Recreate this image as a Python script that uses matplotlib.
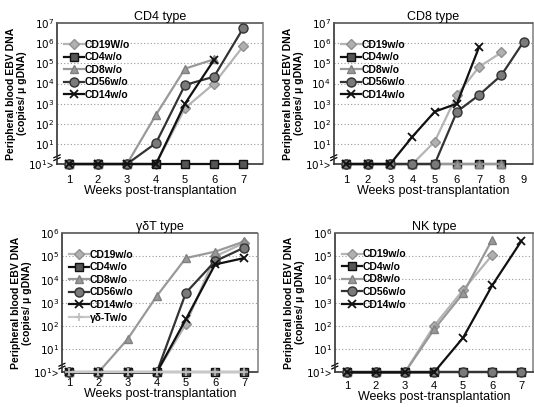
import numpy as np
import matplotlib.pyplot as plt
from matplotlib.lines import Line2D

plt.rcParams["font.family"] = ["Liberation Sans", "DejaVu Sans"]

nan = np.nan

# CD4 type
cd4t_weeks = [1, 2, 3, 4, 5, 6, 7]
cd4t_cd19 = [1, 1, 1, 1, 600, 1e4, 7e5]
cd4t_cd4 = [1, 1, 1, 1, 1, 1, 1]
cd4t_cd8 = [1, 1, 1, 280, 5.5e4, 1.6e5, nan]
cd4t_cd56 = [1, 1, 1, 11, 8500, 2.2e4, 5.5e6]
cd4t_cd14 = [1, 1, 1, 1, 1000, 1.5e5, nan]

# CD8 type
cd8t_weeks = [1, 2, 3, 4, 5, 6, 7, 8, 9]
cd8t_cd19 = [1, 1, 1, 1, 13, 2700, 6.8e4, 3.5e5, nan]
cd8t_cd4 = [1, 1, 1, 1, 1, 1, 1, 1, nan]
cd8t_cd8 = [1, 1, 1, 1, 1, 1, 1, 1, nan]
cd8t_cd56 = [1, 1, 1, 1, 1, 400, 2700, 2.6e4, 1.2e6]
cd8t_cd14 = [1, 1, 1, 23, 400, 1000, 6.6e5, nan, nan]

# gamma-delta T type
gdt_weeks = [1, 2, 3, 4, 5, 6, 7]
gdt_cd19 = [1, 1, 1, 1, 120, 1e5, 3.8e5]
gdt_cd4 = [1, 1, 1, 1, 1, 1, 1]
gdt_cd8 = [1, 1, 27, 1950, 8.5e4, 1.6e5, 4.4e5]
gdt_cd56 = [1, 1, 1, 1, 2700, 6.2e4, 2.4e5]
gdt_cd14 = [1, 1, 1, 1, 195, 4.5e4, 8.5e4]
gdt_gdt = [1, 1, 1, 1, 1, 1, 1]

# NK type
nk_weeks = [1, 2, 3, 4, 5, 6, 7]
nk_cd19 = [1, 1, 1, 100, 3500, 1.1e5, nan]
nk_cd4 = [1, 1, 1, 1, 1, 1, 1]
nk_cd8 = [1, 1, 1, 70, 2500, 5.1e5, nan]
nk_cd56 = [1, 1, 1, 1, 1, 1, 1]
nk_cd14 = [1, 1, 1, 1, 31, 5500, 4.4e5]

# line styles per fraction
styles = {
    "CD19": dict(color="#b5b5b5", marker="D", ms=5, mfc="#b0b0b0", mec="#909090"),
    "CD4": dict(color="#111111", marker="s", ms=6, mfc="#555555", mec="#111111"),
    "CD8": dict(color="#999999", marker="^", ms=6, mfc="#9a9a9a", mec="#808080"),
    "CD56": dict(color="#333333", marker="o", ms=6.5, mfc="#7a7a7a", mec="#333333"),
    "CD14": dict(color="#111111", marker="x", ms=6, mec="#111111", mew=1.3),
    "gdT": dict(color="#c8c8c8", marker="+", ms=6, mec="#bdbdbd", mew=1.2),
}

fig = plt.figure(figsize=(5.34, 4.07), dpi=100)


def panel(rect, title, weeks, series, xlim, ytop, xpad=8):
    ax = fig.add_axes(rect)
    for key, label, vals in series:
        ax.plot(weeks, vals, lw=1.6, label=label, clip_on=False, zorder=3, **styles[key])
    ax.set_yscale("log")
    ax.set_ylim(1, 10 ** ytop)
    ax.set_xlim(*xlim)
    ax.set_xticks(weeks)
    ax.set_xticklabels([str(w) for w in weeks], fontsize=8)
    ticks = [10 ** k for k in range(0, ytop + 1)]
    labels = [r"$10^1$>"] + [r"$10^{%d}$" % k for k in range(1, ytop + 1)]
    ax.set_yticks(ticks)
    ax.set_yticklabels(labels, fontsize=7.5)
    ax.minorticks_off()
    ax.tick_params(axis="y", length=0, pad=2)
    ax.tick_params(axis="x", length=0, pad=xpad)
    for k in range(1, ytop):
        ax.axhline(10 ** k, color="#9a9a9a", lw=0.8, ls=(0, (1, 2)), zorder=1)
    for side in ["left", "bottom", "top", "right"]:
        ax.spines[side].set_linestyle((0, (1, 1)))
        ax.spines[side].set_color("#333333")
        ax.spines[side].set_linewidth(1.2)
    ax.spines["top"].set_color("#555555")
    ax.spines["right"].set_color("#888888")
    # axis break mark
    for dy in (0.035, 0.055):
        ax.add_line(Line2D([-0.015, 0.015], [dy - 0.01, dy + 0.01], transform=ax.transAxes,
                           color="black", lw=0.9, clip_on=False))
    ax.set_title(title, fontsize=9, pad=2)
    ax.set_xlabel("Weeks post-transplantation", fontsize=9, labelpad=0)
    ax.set_ylabel("Peripheral blood EBV DNA\n(copies/ \u03bc gDNA)", fontsize=7.5,
                  fontweight="bold", labelpad=1, linespacing=1.1)
    ax.legend(loc="upper left", bbox_to_anchor=(0.01, 0.92), frameon=False,
              prop=dict(size=7.5, weight="bold"), handlelength=1.9, handletextpad=0.1,
              labelspacing=0.25, borderaxespad=0.1)
    return ax


panel([0.1067, 0.597, 0.386, 0.346], "CD4 type", cd4t_weeks,
      [("CD19", "CD19W/o", cd4t_cd19), ("CD4", "CD4w/o", cd4t_cd4),
       ("CD8", "CD8w/o", cd4t_cd8), ("CD56", "CD56w/o", cd4t_cd56),
       ("CD14", "CD14w/o", cd4t_cd14)], (0.59, 7.69), 7)

panel([0.625, 0.597, 0.373, 0.346], "CD8 type", cd8t_weeks,
      [("CD19", "CD19w/o", cd8t_cd19), ("CD4", "CD4w/o", cd8t_cd4),
       ("CD8", "CD8w/o", cd8t_cd8), ("CD56", "CD56w/o", cd8t_cd56),
       ("CD14", "CD14w/o", cd8t_cd14)], (0.46, 9.42), 7)

panel([0.116, 0.085, 0.367, 0.342], "\u03b3\u03b4T type", gdt_weeks,
      [("CD19", "CD19w/o", gdt_cd19), ("CD4", "CD4w/o", gdt_cd4),
       ("CD8", "CD8w/o", gdt_cd8), ("CD56", "CD56w/o", gdt_cd56),
       ("CD14", "CD14w/o", gdt_cd14), ("gdT", "\u03b3\u03b4-Tw/o", gdt_gdt)],
      (0.75, 7.47), 6, xpad=4)

panel([0.627, 0.085, 0.371, 0.343], "NK type", nk_weeks,
      [("CD19", "CD19w/o", nk_cd19), ("CD4", "CD4w/o", nk_cd4),
       ("CD8", "CD8w/o", nk_cd8), ("CD56", "CD56w/o", nk_cd56),
       ("CD14", "CD14w/o", nk_cd14)], (0.59, 7.4), 6, xpad=6)

fig.savefig("out.png", dpi=100)
